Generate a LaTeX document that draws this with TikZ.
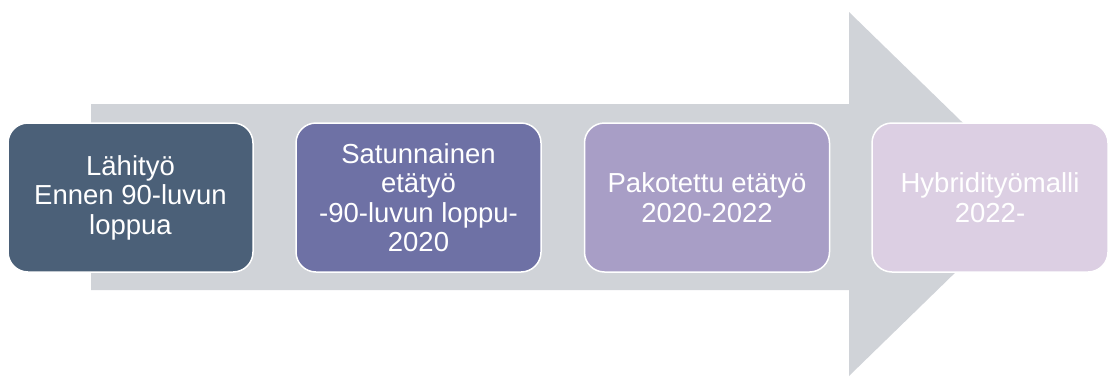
\documentclass[tikz,border=0pt]{standalone}
\usepackage{fontspec}
\setmainfont{Liberation Sans}
\definecolor{arrowgray}{HTML}{D0D3D8}
\definecolor{cA}{HTML}{4B6078}
\definecolor{cB}{HTML}{6E71A5}
\definecolor{cC}{HTML}{A89EC6}
\definecolor{cD}{HTML}{DCCFE3}
\tikzset{
  stage/.style={draw=white, line width=1.5pt, rounded corners=20pt, minimum width=245pt, minimum height=149pt,
    text=white, align=center, inner sep=0pt, font=\fontsize{27.5pt}{29.5pt}\selectfont}
}
\begin{document}
\begin{tikzpicture}[x=1pt,y=-1pt]
\useasboundingbox (0,0) rectangle (1109,378);
\begin{scope}
\clip (0,0) rectangle (1109,378);
\fill[arrowgray] (91,104) -- (849,104) -- (849,12) -- (1036,194) -- (849,376) -- (849,290) -- (91,290) -- cycle;
\node[stage, fill=cA] (s1) at (130.5,197.5) {Lähityö\\Ennen 90-luvun\\loppua};
\node[stage, fill=cB] (s2) at (418.5,197.5) {Satunnainen\\etätyö\\-90-luvun loppu-\\2020};
\node[stage, fill=cC] (s3) at (707,197.5) {Pakotettu etätyö\\2020-2022};
\node[stage, fill=cD, minimum width=236pt] (s4) at (990,197.5) {Hybridityömalli\\2022-};
\end{scope}
\end{tikzpicture}
\end{document}
